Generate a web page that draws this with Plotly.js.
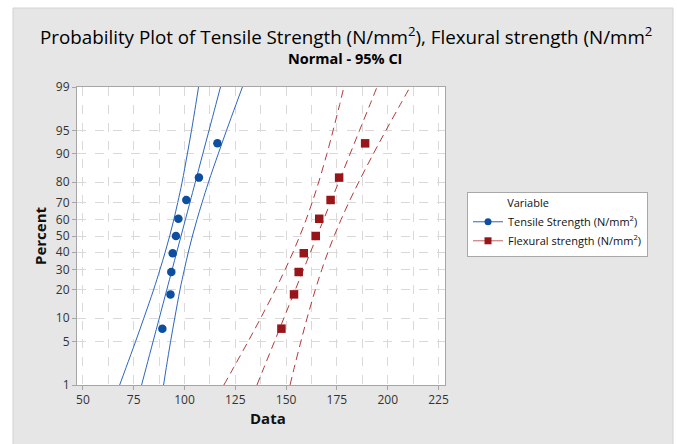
<!DOCTYPE html>
<html>
<head>
<meta charset="utf-8">
<script src="https://cdn.plot.ly/plotly-3.0.1.min.js"></script>
<style>html,body{margin:0;padding:0;background:#fff;}#chart{width:677px;height:444px;}</style>
</head>
<body>
<div id="chart"></div>
<script>
// ---- data ----
const pointPercents = [7.4, 18.1, 28.7, 39.4, 50, 60.6, 71.3, 81.9, 92.6];
const tensileValues = [89.1, 93.1, 93.5, 94.2, 95.8, 97.0, 100.9, 107.1, 116.2];
const flexuralValues = [147.7, 153.9, 156.2, 158.7, 164.6, 166.3, 171.9, 176.1, 188.9];

const linePercents = [1, 2, 5, 10, 20, 30, 40, 50, 60, 70, 80, 90, 95, 98, 99];
const tensileFit   = [78.88, 81.15, 84.56, 87.60, 91.27, 93.92, 96.18, 98.3, 100.42, 102.68, 105.33, 109.00, 112.04, 115.45, 117.72];
const tensileLower = [68.1, 71.25, 75.96, 80.0, 84.77, 87.92, 90.48, 92.7, 94.72, 96.68, 98.83, 101.4, 103.44, 105.55, 106.92];
const tensileUpper = [89.7, 91.05, 93.16, 95.2, 97.77, 99.92, 101.88, 103.9, 106.12, 108.68, 111.83, 116.6, 120.64, 125.35, 128.52];
const flexFit   = [135.66, 139.11, 144.31, 148.92, 154.51, 158.54, 161.98, 165.2, 168.42, 171.86, 175.89, 181.48, 186.09, 191.29, 194.74];
const flexLower = [119.37, 124.19, 131.33, 137.5, 144.66, 149.51, 153.38, 156.74, 159.82, 162.83, 166.04, 170.06, 173.11, 176.37, 178.45];
const flexUpper = [151.95, 154.03, 157.29, 160.34, 164.36, 167.57, 170.58, 173.66, 177.02, 180.89, 185.74, 192.9, 199.07, 206.21, 211.03];

const yTickPercents = [1, 5, 10, 20, 30, 40, 50, 60, 70, 80, 90, 95, 99];
const xTickVals = [50, 75, 100, 125, 150, 175, 200, 225];

const seriesNames = ["Tensile Strength (N/mm<sup>2</sup>)", "Flexural strength (N/mm<sup>2</sup>)"];

// ---- normal probability scale: percent -> z (inverse normal CDF, Acklam) ----
function probit(p) {
  const a = [-3.969683028665376e+01, 2.209460984245205e+02, -2.759285104469687e+02, 1.383577518672690e+02, -3.066479806614716e+01, 2.506628277459239e+00];
  const b = [-5.447609879822406e+01, 1.615858368580409e+02, -1.556989798598866e+02, 6.680131188771972e+01, -1.328068155288572e+01];
  const c = [-7.784894002430293e-03, -3.223964580411365e-01, -2.400758277161838e+00, -2.549732539343734e+00, 4.374664141464968e+00, 2.938163982698783e+00];
  const d = [7.784695709041462e-03, 3.224671290700398e-01, 2.445134137142996e+00, 3.754408661907416e+00];
  const pl = 0.02425, ph = 1 - pl;
  let q, r;
  if (p < pl) { q = Math.sqrt(-2 * Math.log(p)); return (((((c[0]*q+c[1])*q+c[2])*q+c[3])*q+c[4])*q+c[5]) / ((((d[0]*q+d[1])*q+d[2])*q+d[3])*q+1); }
  if (p > ph) { q = Math.sqrt(-2 * Math.log(1 - p)); return -(((((c[0]*q+c[1])*q+c[2])*q+c[3])*q+c[4])*q+c[5]) / ((((d[0]*q+d[1])*q+d[2])*q+d[3])*q+1); }
  q = p - 0.5; r = q * q;
  return (((((a[0]*r+a[1])*r+a[2])*r+a[3])*r+a[4])*r+a[5])*q / (((((b[0]*r+b[1])*r+b[2])*r+b[3])*r+b[4])*r+1);
}
const z = arr => arr.map(p => probit(p / 100));

const blueLine = '#2c66bd', blueMark = '#0d4f9e';
const redLine = '#b13a3a', redMark = '#98161a';
const lineZ = z(linePercents), ptZ = z(pointPercents);

function band(x, color, dash) {
  return { x: x, y: lineZ, type: 'scatter', mode: 'lines', showlegend: false, hoverinfo: 'skip',
           line: { color: color, width: 1, dash: dash, shape: 'spline' } };
}

const traces = [
  band(tensileLower, blueLine, 'solid'), band(tensileFit, blueLine, 'solid'), band(tensileUpper, blueLine, 'solid'),
  band(flexLower, redLine, '8px,5px'), band(flexFit, redLine, '8px,5px'), band(flexUpper, redLine, '8px,5px'),
  { x: tensileValues, y: ptZ, type: 'scatter', mode: 'markers', showlegend: false,
    marker: { color: blueMark, size: 8.5, symbol: 'circle' } },
  { x: flexuralValues, y: ptZ, type: 'scatter', mode: 'markers', showlegend: false,
    marker: { color: redMark, size: 8.5, symbol: 'square' } },
  { x: [null], y: [null], type: 'scatter', mode: 'lines+markers', name: seriesNames[0],
    line: { color: blueLine, width: 1 }, marker: { color: blueMark, size: 7, symbol: 'circle' } },
  { x: [null], y: [null], type: 'scatter', mode: 'lines+markers', name: seriesNames[1],
    line: { color: '#c06060', width: 1 }, marker: { color: redMark, size: 7, symbol: 'square' } }
];

const font = 'Open Sans, DejaVu Sans, sans-serif';
const gridColor = '#d9d9d9';
const layout = {
  width: 677, height: 444,
  margin: { l: 77, r: 232, t: 87, b: 59, pad: 0 },
  paper_bgcolor: '#ffffff', plot_bgcolor: '#ffffff',
  font: { family: font, size: 11, color: '#222' },
  showlegend: true,
  legend: {
    x: 1.0598, y: 0.6477, xanchor: 'left', yanchor: 'top',
    bgcolor: '#ffffff', bordercolor: '#a8a8a8', borderwidth: 1,
    font: { family: font, size: 11, color: '#111' },
    title: { text: '\u00a0\u00a0\u00a0\u00a0\u00a0\u00a0\u00a0\u00a0\u00a0\u00a0\u00a0\u00a0\u00a0Variable', font: { family: font, size: 11, color: '#111' } },
    tracegroupgap: 0, itemwidth: 30
  },
  xaxis: {
    range: [47.1, 228.2], tickvals: xTickVals, ticktext: xTickVals.map(String),
    showgrid: true, gridcolor: gridColor, griddash: 'dash', gridwidth: 1,
    minor: { tickvals: [62.5, 87.5, 112.5, 137.5, 162.5, 187.5, 212.5], showgrid: true, gridcolor: gridColor, griddash: 'dash', ticks: '' },
    showline: true, linecolor: '#a6a6a6', linewidth: 1, mirror: true,
    ticks: 'outside', ticklen: 4, tickcolor: '#a6a6a6',
    tickfont: { family: font, size: 12, color: '#333' }, zeroline: false
  },
  yaxis: {
    range: [probit(0.01), probit(0.99)],
    tickvals: z(yTickPercents), ticktext: yTickPercents.map(String),
    showgrid: true, gridcolor: gridColor, griddash: 'dash', gridwidth: 1,
    showline: true, linecolor: '#a6a6a6', linewidth: 1, mirror: true,
    ticks: 'outside', ticklen: 4, tickcolor: '#a6a6a6',
    tickfont: { family: font, size: 12, color: '#333' }, zeroline: false
  },
  shapes: [
    { type: 'rect', xref: 'paper', yref: 'paper', x0: -0.1739, x1: 1.6196, y0: -0.3, y1: 1.2651,
      fillcolor: '#e6e6e6', line: { color: '#d2d2d2', width: 1 }, layer: 'below' },
    { type: 'rect', xref: 'paper', yref: 'paper', x0: 0, x1: 1, y0: 0, y1: 1,
      fillcolor: '#ffffff', line: { width: 0 }, layer: 'below' }
  ],
  annotations: [
    { text: 'Probability Plot of Tensile Strength (N/mm<sup>2</sup>), Flexural strength (N/mm<sup>2</sup>',
      xref: 'paper', yref: 'paper', x: 0.73, y: 1.17, xanchor: 'center', yanchor: 'middle', showarrow: false,
      font: { family: font, size: 18.8, color: '#000' } },
    { text: '<b>Normal - 95% CI</b>',
      xref: 'paper', yref: 'paper', x: 0.728, y: 1.094, xanchor: 'center', yanchor: 'middle', showarrow: false,
      font: { family: font, size: 14.5, color: '#000' } },
    { text: '<b>Data</b>', xref: 'paper', yref: 'paper', x: 0.519, y: -0.111, xanchor: 'center', yanchor: 'middle', showarrow: false,
      font: { family: font, size: 15, color: '#111' } },
    { text: '<b>Percent</b>', xref: 'paper', yref: 'paper', x: -0.1005, y: 0.5, xanchor: 'center', yanchor: 'middle', showarrow: false,
      textangle: -90, font: { family: font, size: 15, color: '#111' } }
  ]
};

Plotly.newPlot('chart', traces, layout, { displayModeBar: false, staticPlot: true });
</script>
</body>
</html>
